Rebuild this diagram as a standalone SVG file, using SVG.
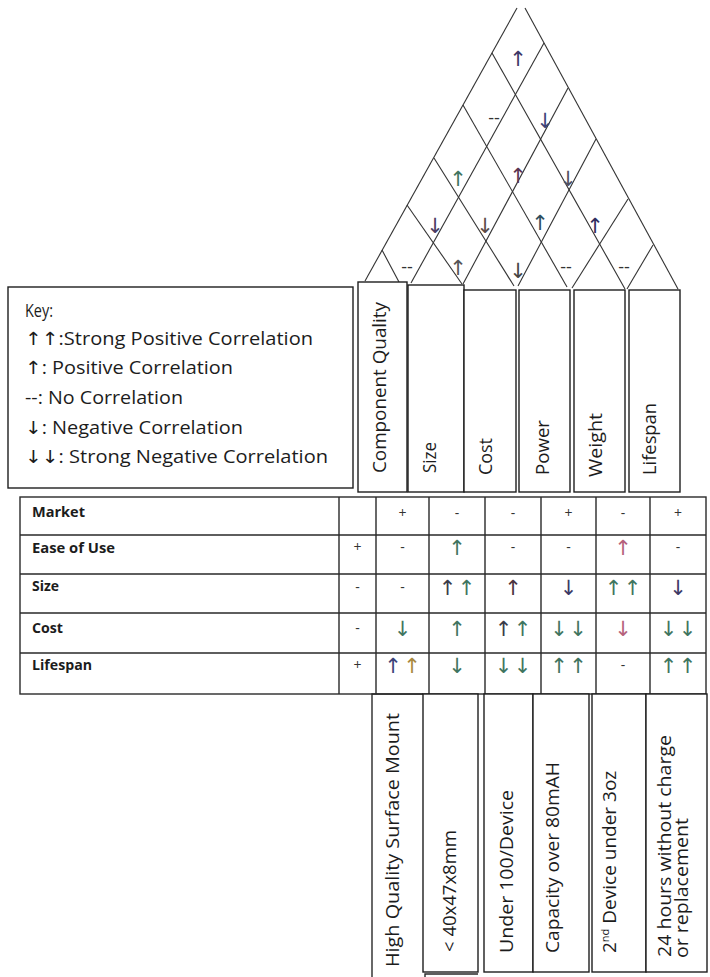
<svg xmlns="http://www.w3.org/2000/svg" width="710" height="977" viewBox="0 0 710 977">
<style>
.txt{font-family:"Open Sans","DejaVu Sans","Liberation Sans",sans-serif;fill:#1c1c1c}
.k{font-size:18px}
.v{font-size:19px}
.lbl{font-size:15px;font-weight:700}
.pm{font-family:"Open Sans","Liberation Sans",sans-serif;font-size:14px;fill:#333;text-anchor:middle}
.dd{font-family:"Open Sans","Liberation Sans",sans-serif;font-size:18px;fill:#333;text-anchor:middle}
.ar{font-family:"DejaVu Sans","Liberation Sans",sans-serif;font-size:21px;text-anchor:middle}
.box{fill:#fff;stroke:#1e1e1e;stroke-width:1.4}
.grid{fill:none;stroke:#2a2a2a;stroke-width:1.4}
.roof{fill:none;stroke:#333;stroke-width:1.1}
.g{fill:#3f7560}.d{fill:#3a3a48}.p{fill:#3c3966}.pk{fill:#b5627c}.b{fill:#3b4479}.o{fill:#a8893e}
</style>
<rect width="710" height="977" fill="#fff"/>

<g id="roof">
  <g class="roof">
    <path d="M517,8 L365,281"/>
    <path d="M525,8 L678,289"/>
    <path d="M492,53 L625,289"/>
    <path d="M463,105 L567,287"/>
    <path d="M434,158 L514,286"/>
    <path d="M407,205 L462,284"/>
    <path d="M382,250 L399,282"/>
    <path d="M544,43 L411,283"/>
    <path d="M568,88 L463,284"/>
    <path d="M596,139 L518,286"/>
    <path d="M628,199 L572,288"/>
    <path d="M653,245 L627,289"/>
  </g>
  <text class="ar p" x="518" y="66">↑</text>
  <text class="dd" x="494" y="124">--</text>
  <text class="ar b" x="545" y="128">↓</text>
  <text class="ar g" x="458" y="186">↑</text>
  <text class="ar" x="518" y="183" fill="#5a3550">↑</text>
  <text class="ar" x="568" y="186" fill="#505060">↓</text>
  <text class="ar" x="435" y="233" fill="#4a3b62">↓</text>
  <text class="ar" x="485" y="233" fill="#5b4b48">↓</text>
  <text class="ar" x="540" y="230" fill="#2d4e5e">↑</text>
  <text class="ar" x="595" y="233" fill="#2e2e5e">↑</text>
  <text class="dd" x="407" y="273">--</text>
  <text class="ar" x="458" y="275" fill="#555">↑</text>
  <text class="ar" x="518" y="278" fill="#444">↓</text>
  <text class="dd" x="566" y="273">--</text>
  <text class="dd" x="624" y="273">--</text>
</g>

<g id="key">
  <rect class="box" x="8" y="287" width="345" height="201"/>
  <text class="txt k" x="25" y="317" textLength="28" lengthAdjust="spacingAndGlyphs">Key:</text>
  <text class="txt k" x="25" y="345" textLength="288" lengthAdjust="spacingAndGlyphs">↑↑:Strong Positive Correlation</text>
  <text class="txt k" x="25" y="374" textLength="208" lengthAdjust="spacingAndGlyphs">↑: Positive Correlation</text>
  <text class="txt k" x="25" y="404" textLength="158" lengthAdjust="spacingAndGlyphs">--: No Correlation</text>
  <text class="txt k" x="25" y="434" textLength="218" lengthAdjust="spacingAndGlyphs">↓: Negative Correlation</text>
  <text class="txt k" x="25" y="463" textLength="303" lengthAdjust="spacingAndGlyphs">↓↓: Strong Negative Correlation</text>
</g>

<g id="col-component-quality">
  <rect class="box" x="358" y="282" width="49" height="210"/>
  <text class="txt v" transform="translate(386,473) rotate(-90)" textLength="171" lengthAdjust="spacingAndGlyphs">Component Quality</text>
</g>
<g id="col-size">
  <rect class="box" x="408" y="285" width="56" height="207"/>
  <text class="txt v" transform="translate(436,473) rotate(-90)" textLength="31" lengthAdjust="spacingAndGlyphs">Size</text>
</g>
<g id="col-cost">
  <rect class="box" x="464" y="290" width="52" height="202"/>
  <text class="txt v" transform="translate(492,475) rotate(-90)" textLength="37" lengthAdjust="spacingAndGlyphs">Cost</text>
</g>
<g id="col-power">
  <rect class="box" x="519" y="290" width="51" height="202"/>
  <text class="txt v" transform="translate(549,475) rotate(-90)" textLength="55" lengthAdjust="spacingAndGlyphs">Power</text>
</g>
<g id="col-weight">
  <rect class="box" x="574" y="290" width="51" height="202"/>
  <text class="txt v" transform="translate(602,477) rotate(-90)" textLength="64" lengthAdjust="spacingAndGlyphs">Weight</text>
</g>
<g id="col-lifespan">
  <rect class="box" x="629" y="290" width="51" height="202"/>
  <text class="txt v" transform="translate(656,475) rotate(-90)" textLength="72" lengthAdjust="spacingAndGlyphs">Lifespan</text>
</g>

<g id="table">
  <rect class="grid" x="20" y="497" width="686" height="197"/>
  <path class="grid" d="M20,535 H706 M20,574 H706 M20,613 H706 M20,653 H706 M339,497 V694 M376,497 V694 M429,497 V694 M485,497 V694 M541,497 V694 M596,497 V694 M650,497 V694"/>
  <text class="txt lbl" x="32" y="517" textLength="53" lengthAdjust="spacingAndGlyphs">Market</text>
  <text class="txt lbl" x="32" y="553" textLength="83" lengthAdjust="spacingAndGlyphs">Ease of Use</text>
  <text class="txt lbl" x="32" y="591" textLength="27" lengthAdjust="spacingAndGlyphs">Size</text>
  <text class="txt lbl" x="32" y="633" textLength="31" lengthAdjust="spacingAndGlyphs">Cost</text>
  <text class="txt lbl" x="32" y="670" textLength="60" lengthAdjust="spacingAndGlyphs">Lifespan</text>

  <!-- row Market -->
  <text class="pm" x="402.5" y="518">+</text>
  <text class="pm" x="457" y="518">-</text>
  <text class="pm" x="513" y="518">-</text>
  <text class="pm" x="568.5" y="518">+</text>
  <text class="pm" x="623" y="518">-</text>
  <text class="pm" x="678" y="518">+</text>
  <!-- row Ease of Use -->
  <text class="pm" x="357.5" y="552">+</text>
  <text class="pm" x="402.5" y="552">-</text>
  <text class="ar g" x="457" y="555">↑</text>
  <text class="pm" x="513" y="552">-</text>
  <text class="pm" x="568.5" y="552">-</text>
  <text class="ar pk" x="623" y="555">↑</text>
  <text class="pm" x="678" y="552">-</text>
  <!-- row Size -->
  <text class="pm" x="357.5" y="592">-</text>
  <text class="pm" x="402.5" y="592">-</text>
  <text class="ar d" x="447.5" y="595">↑</text><text class="ar g" x="466.5" y="595">↑</text>
  <text class="ar" x="513" y="595" fill="#4a3540">↑</text>
  <text class="ar p" x="568.5" y="595">↓</text>
  <text class="ar g" x="613.5" y="595">↑</text><text class="ar g" x="632.5" y="595">↑</text>
  <text class="ar p" x="678" y="595">↓</text>
  <!-- row Cost -->
  <text class="pm" x="357.5" y="633">-</text>
  <text class="ar g" x="402.5" y="636">↓</text>
  <text class="ar g" x="457" y="636">↑</text>
  <text class="ar d" x="503.5" y="636">↑</text><text class="ar g" x="522.5" y="636">↑</text>
  <text class="ar g" x="559" y="636">↓</text><text class="ar g" x="578" y="636">↓</text>
  <text class="ar pk" x="623" y="636">↓</text>
  <text class="ar g" x="668.5" y="636">↓</text><text class="ar g" x="687.5" y="636">↓</text>
  <!-- row Lifespan -->
  <text class="pm" x="357.5" y="670">+</text>
  <text class="ar b" x="393" y="673">↑</text><text class="ar o" x="412" y="673">↑</text>
  <text class="ar g" x="457" y="673">↓</text>
  <text class="ar g" x="503.5" y="673">↓</text><text class="ar g" x="522.5" y="673">↓</text>
  <text class="ar g" x="559" y="673">↑</text><text class="ar g" x="578" y="673">↑</text>
  <text class="pm" x="623" y="670">-</text>
  <text class="ar g" x="668.5" y="673">↑</text><text class="ar g" x="687.5" y="673">↑</text>
</g>

<g id="target-component-quality">
  <path class="grid" d="M372,977 V694 H423"/>
  <text class="txt v" transform="translate(399,967) rotate(-90)" textLength="254" lengthAdjust="spacingAndGlyphs">High Quality Surface Mount</text>
</g>
<g id="target-size">
  <rect class="box" x="423" y="694" width="55" height="278"/>
  <path class="grid" d="M425,977 V974 H478"/>
  <text class="txt v" transform="translate(456,952) rotate(-90)" textLength="122" lengthAdjust="spacingAndGlyphs">&lt; 40x47x8mm</text>
</g>
<g id="target-cost">
  <rect class="box" x="484" y="694" width="49" height="278"/>
  <text class="txt v" transform="translate(513,953) rotate(-90)" textLength="163" lengthAdjust="spacingAndGlyphs">Under 100/Device</text>
</g>
<g id="target-power">
  <rect class="box" x="533" y="694" width="56" height="278"/>
  <text class="txt v" transform="translate(559,953) rotate(-90)" textLength="191" lengthAdjust="spacingAndGlyphs">Capacity over 80mAH</text>
</g>
<g id="target-weight">
  <rect class="box" x="592" y="694" width="54" height="278"/>
  <text class="txt v" transform="translate(616,953) rotate(-90)">2<tspan font-size="11" baseline-shift="super">nd</tspan> Device under 3oz</text>
</g>
<g id="target-lifespan">
  <rect class="box" x="646" y="694" width="61" height="278"/>
  <text class="txt v" transform="translate(671,957) rotate(-90)" textLength="222" lengthAdjust="spacingAndGlyphs">24 hours without charge</text>
  <text class="txt v" transform="translate(688,958) rotate(-90)" textLength="140" lengthAdjust="spacingAndGlyphs">or replacement</text>
</g>
</svg>
